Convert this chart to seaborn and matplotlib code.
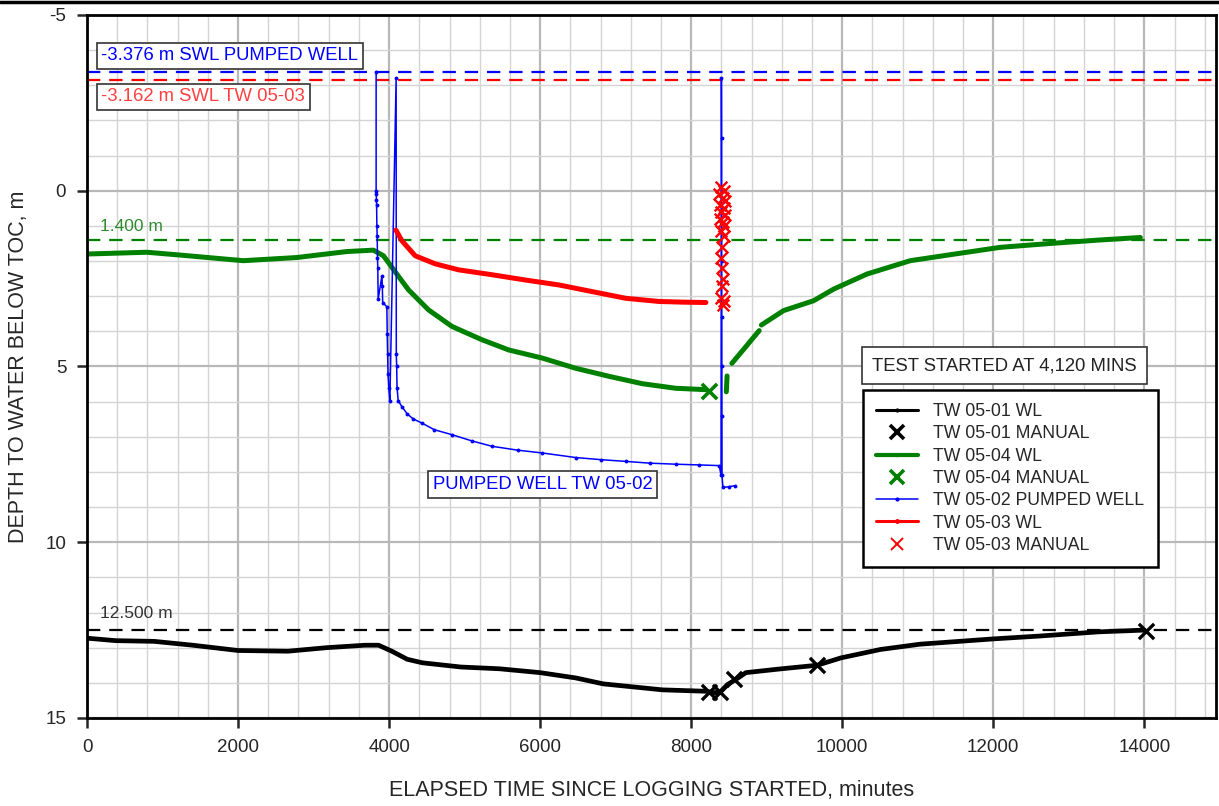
import numpy as np
import pandas as pd
import matplotlib
matplotlib.use("Agg")
import matplotlib.pyplot as plt
from matplotlib.lines import Line2D
from matplotlib.ticker import MultipleLocator
import seaborn as sns

# ---- data ----
# TW 05-01 water level (black)
tw01_x = [0, 380, 890, 1400, 2000, 2660, 3170, 3680, 3860, 4036, 4240, 4440, 4950, 5460,
          6000, 6470, 6836, 7620, 8200, 8290, 8380, 8480, 8593, 8724, 9196, 9668, 9983,
          10508, 11032, 12000, 12604, 13390, 14000]
tw01_y = [12.73, 12.8, 12.82, 12.93, 13.08, 13.1, 13.0, 12.93, 12.93, 13.1, 13.33, 13.43, 13.55, 13.6,
          13.71, 13.86, 14.03, 14.2, 14.24, 14.28, 14.27, 14.05, 13.9, 13.71, 13.6, 13.5, 13.29,
          13.05, 12.9, 12.75, 12.67, 12.55, 12.5]
tw01_man_x = [8230, 8380, 8570, 9670, 14020]
tw01_man_y = [14.27, 14.27, 13.9, 13.48, 12.52]

# TW 05-04 water level (green), segments split where the logger record breaks
tw04_seg = [1] * 22 + [2] * 3 + [3] * 3 + [4] * 11
tw04_x = [0, 790, 1232, 2070, 2777, 3440, 3792, 3925, 4146, 4257, 4522, 4832, 5230, 5584,
          6027, 6469, 6912, 7354, 7796, 8000, 8100, 8195,
          8465, 8470, 8475,
          8539, 8726, 8900,
          8930, 9223, 9620, 9885, 10327, 10901, 11430, 12093, 12755, 13417, 13947]
tw04_y = [1.8, 1.75, 1.83, 1.99, 1.9, 1.73, 1.69, 1.85, 2.5, 2.82, 3.39, 3.86, 4.24, 4.53,
          4.76, 5.05, 5.28, 5.49, 5.62, 5.64, 5.65, 5.66,
          5.72, 5.5, 5.27,
          4.91, 4.43, 3.98,
          3.82, 3.41, 3.13, 2.8, 2.37, 1.99, 1.82, 1.61, 1.5, 1.4, 1.33]
tw04_man_x = [8230]
tw04_man_y = [5.71]

# TW 05-02 pumped well (blue)
tw02_x = [3828, 3828, 3830, 3832, 3834, 3838, 3842, 3846, 3850, 3855, 3905, 3910, 3915, 3970,
          3975, 3980, 3985, 3995, 4010, 4093, 4095, 4100, 4105, 4120, 4168, 4240, 4318, 4434,
          4600, 4832, 5100, 5363, 5700, 6027, 6469, 6800, 7133, 7450, 7796, 8100, 8372, 8395,
          8400, 8402, 8403, 8404, 8405, 8406, 8407, 8408, 8420, 8500, 8583]
tw02_y = [-3.38, 0.0, 0.1, 0.25, 0.4, 1.0, 1.3, 1.9, 2.2, 3.08, 2.42, 2.7, 3.18, 3.3,
          4.07, 4.64, 5.2, 5.6, 5.97, -3.2, 4.64, 5.0, 5.6, 5.97, 6.14, 6.35, 6.49, 6.61,
          6.8, 6.94, 7.12, 7.27, 7.38, 7.46, 7.59, 7.65, 7.7, 7.75, 7.78, 7.8, 7.82, 8.1,
          -3.2, -1.5, 0.2, 2.0, 3.6, 5.0, 6.4, 8.1, 8.44, 8.42, 8.39]

# TW 05-03 water level (red)
tw03_x = [4090, 4168, 4345, 4611, 4920, 5363, 5805, 6248, 6690, 7133, 7575, 7900, 8195]
tw03_y = [1.12, 1.42, 1.85, 2.08, 2.25, 2.39, 2.54, 2.68, 2.87, 3.06, 3.15, 3.17, 3.18]
tw03_man_x = [8390, 8440, 8370, 8420, 8450, 8380, 8430, 8400, 8445, 8375, 8420, 8440, 8395,
              8430, 8410, 8400, 8410, 8415, 8410, 8400, 8430, 8415]
tw03_man_y = [-0.1, 0.0, 0.1, 0.2, 0.3, 0.4, 0.5, 0.6, 0.7, 0.8, 0.9, 1.0, 1.15,
              1.3, 1.6, 1.9, 2.2, 2.5, 2.7, 3.05, 3.15, 3.25]

# reference levels
swl_pumped = -3.376
swl_tw03 = -3.162
ref_tw04 = 1.4
ref_tw01 = 12.5

legend_labels = ["TW 05-01 WL", "TW 05-01 MANUAL", "TW 05-04 WL", "TW 05-04 MANUAL",
                 "TW 05-02 PUMPED WELL", "TW 05-03 WL", "TW 05-03 MANUAL"]

# ---- styling ----
sns.set_style("white")
plt.rcParams["font.family"] = ["Liberation Sans", "DejaVu Sans"]
plt.rcParams["axes.unicode_minus"] = False

BLUE = "#0000ff"
RED = "#ff0000"
GREEN = "#008000"
FS = 13.3

fig = plt.figure(figsize=(12.19, 8.06), dpi=100)
ax = fig.add_axes([0.0714, 0.1092, 0.9262, 0.8722])

# grid
ax.xaxis.set_major_locator(MultipleLocator(2000))
ax.xaxis.set_minor_locator(MultipleLocator(400))
ax.yaxis.set_major_locator(MultipleLocator(5))
ax.yaxis.set_minor_locator(MultipleLocator(1))
ax.grid(which="major", color="#b8b8b8", lw=1.6, zorder=0)
ax.grid(which="minor", color="#d4d4d4", lw=1.0, zorder=0)
ax.set_axisbelow(True)

# reference dashed lines
dash = (0, (6, 4))
ax.axhline(swl_pumped, color=BLUE, ls=dash, lw=1.6)
ax.axhline(swl_tw03, color=RED, ls=dash, lw=1.6)
ax.axhline(ref_tw04, color=GREEN, ls=dash, lw=1.6)
ax.axhline(ref_tw01, color="black", ls=dash, lw=1.6)

# series
df01 = pd.DataFrame({"x": tw01_x, "y": tw01_y})
sns.lineplot(data=df01, x="x", y="y", color="black", lw=3.4, sort=False,
             estimator=None, ax=ax, legend=False)

df04 = pd.DataFrame({"x": tw04_x, "y": tw04_y, "seg": tw04_seg})
sns.lineplot(data=df04, x="x", y="y", units="seg", color=GREEN, lw=3.6, sort=False,
             estimator=None, ax=ax, legend=False)

df02 = pd.DataFrame({"x": tw02_x, "y": tw02_y})
sns.lineplot(data=df02, x="x", y="y", color=BLUE, lw=1.1, sort=False, estimator=None,
             marker="o", markersize=2.8, markeredgewidth=0, ax=ax, legend=False)

df03 = pd.DataFrame({"x": tw03_x, "y": tw03_y})
sns.lineplot(data=df03, x="x", y="y", color=RED, lw=3.6, sort=False,
             estimator=None, ax=ax, legend=False)

sns.scatterplot(x=tw03_man_x, y=tw03_man_y, marker="x", color=RED, s=70, linewidth=1.7,
                ax=ax, legend=False, zorder=5)
sns.scatterplot(x=tw04_man_x, y=tw04_man_y, marker="x", color=GREEN, s=120, linewidth=2.6,
                ax=ax, legend=False, zorder=5)
sns.scatterplot(x=tw01_man_x, y=tw01_man_y, marker="x", color="black", s=120, linewidth=2.4,
                ax=ax, legend=False, zorder=5)

# axes
ax.set_xlim(0, 14950)
ax.set_ylim(15, -5)
ax.set_xlabel("ELAPSED TIME SINCE LOGGING STARTED, minutes", fontsize=15.5)
ax.set_ylabel("DEPTH TO WATER BELOW TOC, m", fontsize=15.5)
ax.xaxis.set_label_coords(0.5, -0.088)
ax.yaxis.set_label_coords(-0.051, 0.5)
ax.tick_params(which="major", direction="out", length=7, width=1.8, labelsize=13.5,
               bottom=True, left=True, top=False, right=False, pad=8)
ax.tick_params(which="minor", length=0)
for sp in ax.spines.values():
    sp.set_color("black")
    sp.set_linewidth(2)

# annotations
box = dict(boxstyle="square,pad=0.25", fc="white", ec="#333333", lw=1.2)
ax.text(190, -3.84, "-3.376 m SWL PUMPED WELL", color=BLUE, fontsize=FS,
        va="center", ha="left", bbox=box, zorder=6)
ax.text(190, -2.67, "-3.162 m SWL TW 05-03", color="#ff4040", fontsize=FS,
        va="center", ha="left", bbox=box, zorder=6)
ax.text(172, 1.02, "1.400 m", color="#2e8b2e", fontsize=12.5, va="center", ha="left")
ax.text(172, 12.03, "12.500 m", color="#333333", fontsize=12.5, va="center", ha="left")
ax.text(4580, 8.36, "PUMPED WELL TW 05-02", color=BLUE, fontsize=FS,
        va="center", ha="left", bbox=box, zorder=6)
ax.text(10400, 4.98, "TEST STARTED AT 4,120 MINS", color="#222222", fontsize=FS,
        va="center", ha="left",
        bbox=dict(boxstyle="square,pad=0.55", fc="white", ec="#333333", lw=1.2), zorder=6)

# legend
handles = [
    Line2D([], [], color="black", lw=2.2, marker=".", markersize=4),
    Line2D([], [], color="black", lw=0, marker="x", markersize=10, markeredgewidth=2.6),
    Line2D([], [], color=GREEN, lw=3, marker=".", markersize=3),
    Line2D([], [], color=GREEN, lw=0, marker="x", markersize=10, markeredgewidth=2.6),
    Line2D([], [], color=BLUE, lw=1.1, marker=".", markersize=4),
    Line2D([], [], color=RED, lw=2.2, marker=".", markersize=5),
    Line2D([], [], color=RED, lw=0, marker="x", markersize=8, markeredgewidth=1.4),
]
leg = ax.legend(handles, legend_labels, loc="upper left", bbox_to_anchor=(0.687, 0.4666),
                fontsize=12.7, frameon=True, fancybox=False, framealpha=1,
                edgecolor="black", handlelength=2.4, labelspacing=0.3,
                borderpad=0.75, handletextpad=0.85, borderaxespad=0)
leg.get_frame().set_linewidth(1.8)
leg.set_zorder(7)

# figure border line along the top
fig.add_artist(Line2D([0, 1], [0.998, 0.998], color="black", lw=2.5,
                      transform=fig.transFigure))

fig.savefig("out.png", dpi=100)
